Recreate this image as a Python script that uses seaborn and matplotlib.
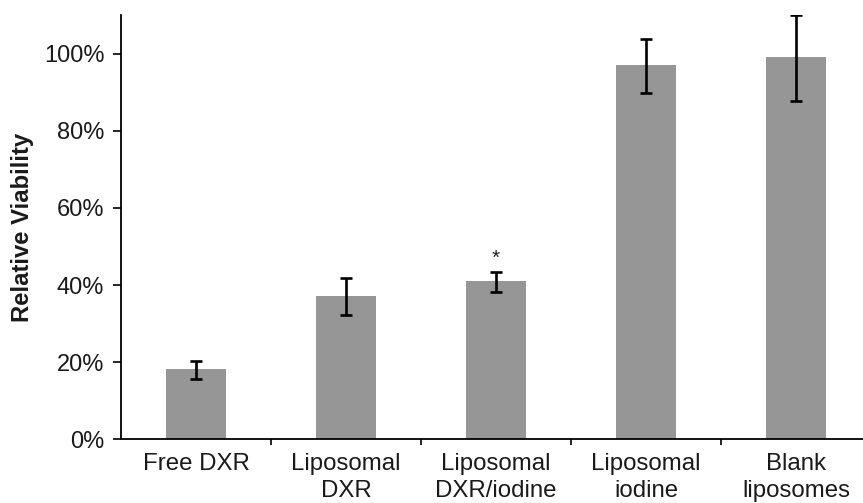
import matplotlib
matplotlib.use("Agg")
import matplotlib.pyplot as plt
import seaborn as sns
import numpy as np
import pandas as pd
from matplotlib.ticker import PercentFormatter, FixedLocator

categories = ["Free DXR", "Liposomal\nDXR", "Liposomal\nDXR/iodine", "Liposomal\niodine", "Blank\nliposomes"]
viability = [18.2, 37.2, 41.0, 97.1, 99.2]
err_lower = [2.5, 4.9, 2.7, 7.2, 11.5]
err_upper = [2.2, 4.6, 2.4, 6.7, 10.7]
significance = ["", "", "*", "", ""]
y_ticks = [0, 20, 40, 60, 80, 100]

sns.set_theme(style="white")
plt.rcParams['font.family'] = ['Liberation Sans', 'DejaVu Sans']

fig = plt.figure(figsize=(8.63, 5.03), dpi=100)
ax = fig.add_axes([0.1402, 0.1266, 1.0 - 0.1402, 0.8436])

df = pd.DataFrame({"cat": categories, "val": viability})
sns.barplot(data=df, x="cat", y="val", color="#969696", saturation=1, width=0.4,
            errorbar=None, ax=ax, linewidth=0)

xs = np.arange(len(categories))
ax.errorbar(xs, viability, yerr=[err_lower, err_upper], fmt="none", ecolor="black",
            elinewidth=1.9, capsize=4, capthick=1.9, zorder=5)

for x, v, e, s in zip(xs, viability, err_upper, significance):
    if s:
        ax.text(x, v + e + 1.0, s, ha="center", va="bottom", fontsize=15, color="#222222")

ax.set_ylim(0, 110)
ax.set_xlim(-0.5, 4.447)
ax.yaxis.set_major_locator(FixedLocator(y_ticks))
ax.yaxis.set_major_formatter(PercentFormatter(decimals=0))

ax.set_xlabel("")
ax.set_ylabel("Relative Viability", fontsize=17.2, fontweight="bold", labelpad=7, color="#1a1a1a")

ax.tick_params(axis="y", which="major", direction="out", length=6, width=1.2, colors="black",
               labelsize=17, pad=6, left=True)
ax.tick_params(axis="x", which="major", length=0, labelsize=17.3, pad=10, labelcolor="#1a1a1a")
for lab in ax.get_xticklabels():
    lab.set_linespacing(1.3)
ax.set_xticks(np.arange(0.5, 4.0, 1.0), minor=True)
ax.tick_params(axis="x", which="minor", direction="out", length=4.5, width=1.2, colors="black", bottom=True)
for lab in ax.get_yticklabels():
    lab.set_color("#1a1a1a")

for side in ["top", "right"]:
    ax.spines[side].set_visible(False)
for side in ["left", "bottom"]:
    ax.spines[side].set_color("black")
    ax.spines[side].set_linewidth(1.3)

fig.savefig("out.png", dpi=100, facecolor="white")
